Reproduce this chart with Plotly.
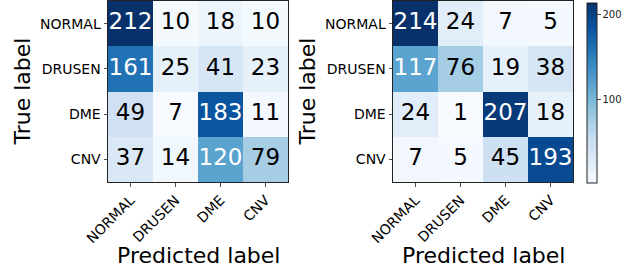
import plotly.graph_objects as go

classes = ["NORMAL", "DRUSEN", "DME", "CNV"]
cm_left = [[212, 10, 18, 10],
           [161, 25, 41, 23],
           [49, 7, 183, 11],
           [37, 14, 120, 79]]
cm_right = [[214, 24, 7, 5],
            [117, 76, 19, 38],
            [24, 1, 207, 18],
            [7, 5, 45, 193]]
cbar_ticks = [100, 200]

W, H = 631, 268
blues = ["#f7fbff", "#deebf7", "#c6dbef", "#9ecae1", "#6baed6",
         "#4292c6", "#2171b5", "#08519c", "#08306b"]
cscale = [[i / 8, c] for i, c in enumerate(blues)]
FONT = "DejaVu Sans"

fig = go.Figure()

def px_x(p):
    return p / W

def px_y(p):
    return 1 - p / H

panels = [
    (cm_left, "x", "y", 108, 288, False),
    (cm_right, "x2", "y2", 393, 573, True),
]
ytop, ybot = 1, 182

for i, (cm, xa, ya, x0, x1, show_cb) in enumerate(panels):
    flat = [v for row in cm for v in row]
    zmin, zmax = min(flat), max(flat)
    thresh = zmax / 2.0
    hm = dict(
        z=cm, x=list(range(4)), y=list(range(4)),
        colorscale=cscale, zmin=zmin, zmax=zmax,
        xaxis=xa, yaxis=ya, showscale=show_cb, hoverinfo="skip",
    )
    if show_cb:
        hm["colorbar"] = dict(
            x=px_x(587), xanchor="left", xpad=0, ypad=0,
            thickness=10, thicknessmode="pixels",
            len=180, lenmode="pixels",
            y=px_y(93), yanchor="middle",
            outlinewidth=1, outlinecolor="#222",
            tickvals=cbar_ticks, ticks="outside", ticklen=3.5,
            tickwidth=0.8, tickcolor="#222",
            tickfont=dict(family=FONT, size=10, color="#222"),
        )
    fig.add_trace(go.Heatmap(**hm))
    xs, ys, txt, cols = [], [], [], []
    for r in range(4):
        for c in range(4):
            xs.append(c)
            ys.append(r)
            txt.append(str(cm[r][c]))
            cols.append("white" if cm[r][c] > thresh else "black")
    fig.add_trace(go.Scatter(
        x=xs, y=ys, text=txt, mode="text", xaxis=xa, yaxis=ya,
        textfont=dict(family=FONT, size=23, color=cols),
        hoverinfo="skip", showlegend=False,
    ))
    sfx = "" if i == 0 else str(i + 1)
    common = dict(
        showline=True, mirror=True, linecolor="#222", linewidth=1,
        ticks="outside", ticklen=3.5, tickwidth=0.8, tickcolor="#222",
        tickfont=dict(family=FONT, size=14, color="black"),
        showgrid=False, zeroline=False, tickvals=list(range(4)),
        ticktext=classes, fixedrange=True, automargin=False,
    )
    fig.layout["xaxis" + sfx] = dict(
        common, domain=[px_x(x0), px_x(x1)], range=[-0.5, 3.5],
        anchor="y" + sfx, tickangle=-45,
    )
    fig.layout["yaxis" + sfx] = dict(
        common, domain=[px_y(ybot), px_y(ytop)], range=[3.5, -0.5],
        anchor="x" + sfx,
    )
    fig.add_annotation(
        text="Predicted label", xref="paper", yref="paper",
        x=px_x((x0 + x1) / 2), y=px_y(255.5), xanchor="center",
        yanchor="middle", showarrow=False,
        font=dict(family=FONT, size=22, color="black"),
    )
    fig.add_annotation(
        text="True label", xref="paper", yref="paper",
        x=px_x(x0 - 86), y=px_y((ytop + ybot) / 2), xanchor="center",
        yanchor="middle", showarrow=False, textangle=-90,
        font=dict(family=FONT, size=22, color="black"),
    )

fig.update_layout(
    width=W, height=H,
    margin=dict(l=0, r=0, t=0, b=0, pad=0, autoexpand=False),
    paper_bgcolor="white", plot_bgcolor="white", showlegend=False,
)

fig.write_html(
    "out.html",
    config={"displayModeBar": False, "staticPlot": True},
    post_script="document.body.style.margin='0';document.body.style.overflow='hidden';",
)
